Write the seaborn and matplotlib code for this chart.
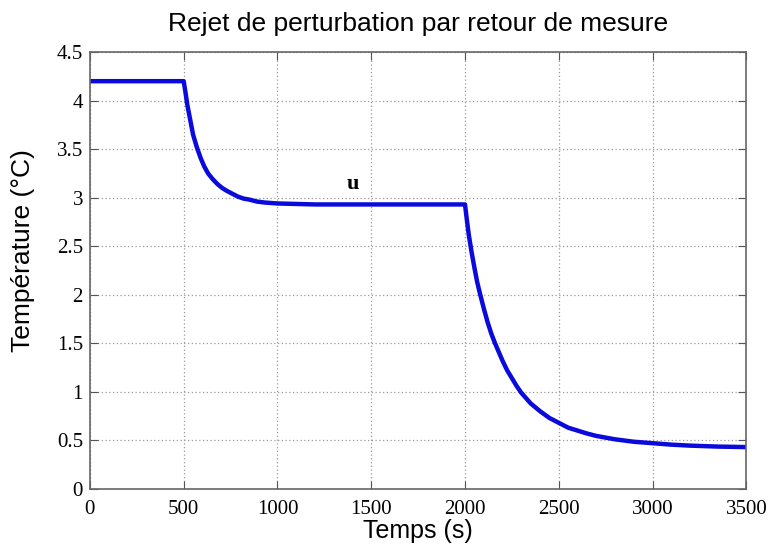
import matplotlib
matplotlib.use("Agg")
import matplotlib.pyplot as plt
import seaborn as sns
import pandas as pd

# Temperature response (s, °C)
temps_s = [0, 500, 510, 520, 535, 550, 570, 590, 610, 630, 655, 680, 705, 730, 760,
           790, 820, 850, 890, 930, 1000, 1100, 1200, 1500, 1800, 2000, 2010, 2020,
           2035, 2050, 2065, 2080, 2100, 2120, 2140, 2160, 2180, 2200, 2225, 2250,
           2275, 2300, 2350, 2400, 2450, 2500, 2550, 2600, 2650, 2700, 2800, 2900,
           3000, 3100, 3200, 3350, 3500]
temperature = [4.2, 4.2, 4.08, 3.95, 3.80, 3.65, 3.52, 3.41, 3.32, 3.25, 3.19, 3.14,
               3.10, 3.07, 3.04, 3.01, 2.99, 2.98, 2.96, 2.95, 2.94, 2.935, 2.93, 2.93,
               2.93, 2.93, 2.77, 2.62, 2.44, 2.28, 2.13, 2.01, 1.86, 1.72, 1.60, 1.50,
               1.41, 1.32, 1.22, 1.14, 1.06, 0.99, 0.88, 0.80, 0.73, 0.68, 0.63, 0.60,
               0.57, 0.545, 0.51, 0.485, 0.47, 0.455, 0.445, 0.435, 0.43]

x_ticks = [0, 500, 1000, 1500, 2000, 2500, 3000, 3500]
y_ticks = [0, 0.5, 1, 1.5, 2, 2.5, 3, 3.5, 4, 4.5]
y_tick_labels = ["0", "0.5", "1", "1.5", "2", "2.5", "3", "3.5", "4", "4.5"]

df = pd.DataFrame({"t": temps_s, "T": temperature})

sns.set_style("white")
plt.rcParams["text.color"] = "black"
plt.rcParams["axes.labelcolor"] = "black"
plt.rcParams["xtick.labelcolor"] = "black"
plt.rcParams["ytick.labelcolor"] = "black"

fig = plt.figure(figsize=(7.75, 5.48), dpi=100)
ax = fig.add_axes([0.116, 0.108, 0.847, 0.797])

sns.lineplot(data=df, x="t", y="T", ax=ax, color="#0a0adc", linewidth=3.2,
             estimator=None, sort=False)

ax.set_xlim(0, 3500)
ax.set_ylim(0, 4.5)
ax.set_xticks(x_ticks)
ax.set_yticks(y_ticks)
ax.set_xticklabels([str(v) for v in x_ticks], family="Liberation Serif", fontsize=15)
ax.set_yticklabels(y_tick_labels, family="Liberation Serif", fontsize=15)

ax.grid(True, linestyle=(0, (1, 2)), color="#9a9a9a", linewidth=0.9)
ax.tick_params(direction="in", length=6, color="#555555", labelcolor="black",
               top=True, right=True, bottom=True, left=True,
               labeltop=False, labelright=False)
ax.tick_params(axis="x", pad=8)
ax.tick_params(axis="y", pad=5)
for s in ax.spines.values():
    s.set_color("#666666")
    s.set_linewidth(1.2)

ax.set_xlabel("Temps (s)", family="Liberation Sans", fontsize=18, color="black")
ax.xaxis.set_label_coords(0.5, -0.068)
ax.set_ylabel("Température (°C)", family="Liberation Sans", fontsize=19, color="black")
ax.yaxis.set_label_coords(-0.084, 0.545)
ax.set_title("Rejet de perturbation par retour de mesure", family="Liberation Sans",
             fontsize=19, pad=15, color="black")

ax.text(1400, 3.14, "u", family="Liberation Serif", fontweight="bold",
        fontsize=16, ha="center", va="center", color="black")

fig.savefig("out.png", dpi=100)
